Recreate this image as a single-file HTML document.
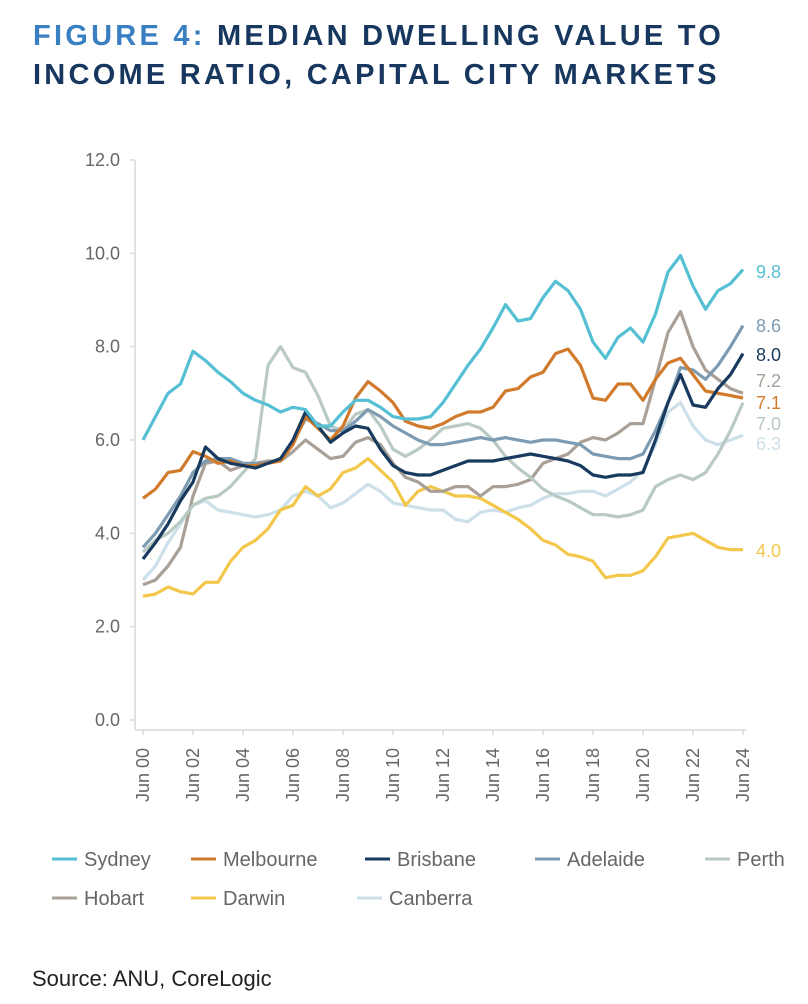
<!DOCTYPE html>
<html><head><meta charset="utf-8"><style>
body{margin:0;background:#fff;width:808px;height:1004px;overflow:hidden;font-family:"Liberation Sans",sans-serif;}
.title{position:absolute;left:33px;top:17px;font-weight:bold;font-size:29px;letter-spacing:3.25px;line-height:39px;color:#17375e;white-space:nowrap;}
.title span{color:#3a7fc1}
svg{position:absolute;left:0;top:0}
</style></head><body>
<div class="title"><span>FIGURE 4:</span> MEDIAN DWELLING VALUE TO<br>INCOME RATIO, CAPITAL CITY MARKETS</div>
<svg id="chart" width="808" height="1004"></svg>
<script>
const years=['00','02','04','06','08','10','12','14','16','18','20','22','24'];
const yTicks=[0,2,4,6,8,10,12];
const names=['Sydney','Melbourne','Brisbane','Adelaide','Perth','Hobart','Darwin','Canberra'];
const colors=['#55bfd3','#d27a2c','#173a5e','#7d9bb2','#b9c9c3','#a9a097','#f3c74b','#cde0ea'];
const endLabels=['9.8','8.6','8.0','7.2','7.1','7.0','6.3','4.0'];
const endSeries=[0,3,2,5,1,4,7,6];
const sydney=[6.0,6.5,7.0,7.2,7.9,7.7,7.45,7.25,7.0,6.85,6.75,6.6,6.7,6.65,6.3,6.3,6.6,6.85,6.85,6.7,6.5,6.45,6.45,6.5,6.8,7.2,7.6,7.95,8.4,8.9,8.55,8.6,9.05,9.4,9.2,8.8,8.1,7.75,8.2,8.4,8.1,8.7,9.6,9.95,9.3,8.8,9.2,9.35,9.65];
const melbourne=[4.75,4.95,5.3,5.35,5.75,5.65,5.5,5.55,5.45,5.45,5.5,5.55,5.9,6.5,6.25,6.0,6.3,6.9,7.25,7.05,6.8,6.4,6.3,6.25,6.35,6.5,6.6,6.6,6.7,7.05,7.1,7.35,7.45,7.85,7.95,7.6,6.9,6.85,7.2,7.2,6.85,7.3,7.65,7.75,7.4,7.05,7.0,6.95,6.9];
const brisbane=[3.45,3.8,4.2,4.7,5.1,5.85,5.6,5.5,5.45,5.4,5.5,5.6,6.0,6.6,6.3,5.95,6.15,6.3,6.25,5.8,5.45,5.3,5.25,5.25,5.35,5.45,5.55,5.55,5.55,5.6,5.65,5.7,5.65,5.6,5.55,5.45,5.25,5.2,5.25,5.25,5.3,6.0,6.8,7.4,6.75,6.7,7.1,7.4,7.85];
const adelaide=[3.7,4.0,4.4,4.8,5.3,5.55,5.6,5.6,5.5,5.5,5.5,5.6,5.95,6.45,6.35,6.2,6.2,6.4,6.65,6.5,6.3,6.15,6.0,5.9,5.9,5.95,6.0,6.05,6.0,6.05,6.0,5.95,6.0,6.0,5.95,5.9,5.7,5.65,5.6,5.6,5.7,6.2,6.8,7.55,7.5,7.3,7.6,8.0,8.45];
const perth=[3.6,3.85,4.0,4.25,4.6,4.75,4.8,5.0,5.3,5.6,7.6,8.0,7.55,7.45,6.95,6.3,6.2,6.55,6.65,6.3,5.8,5.65,5.8,6.0,6.25,6.3,6.35,6.25,6.0,5.65,5.4,5.2,4.95,4.8,4.7,4.55,4.4,4.4,4.35,4.4,4.5,5.0,5.15,5.25,5.15,5.3,5.7,6.2,6.8];
const hobart=[2.9,3.0,3.3,3.7,4.8,5.5,5.55,5.35,5.45,5.5,5.55,5.55,5.75,6.0,5.8,5.6,5.65,5.95,6.05,5.9,5.5,5.2,5.1,4.9,4.9,5.0,5.0,4.8,5.0,5.0,5.05,5.15,5.5,5.6,5.7,5.95,6.05,6.0,6.15,6.35,6.35,7.3,8.3,8.75,8.0,7.5,7.3,7.1,7.0];
const darwin=[2.65,2.7,2.85,2.75,2.7,2.95,2.95,3.4,3.7,3.85,4.1,4.5,4.6,5.0,4.8,4.95,5.3,5.4,5.6,5.35,5.1,4.6,4.9,5.0,4.9,4.8,4.8,4.75,4.6,4.45,4.3,4.1,3.85,3.75,3.55,3.5,3.4,3.05,3.1,3.1,3.2,3.5,3.9,3.95,4.0,3.85,3.7,3.65,3.65];
const canberra=[3.0,3.3,3.8,4.2,4.6,4.7,4.5,4.45,4.4,4.35,4.4,4.5,4.8,4.9,4.8,4.55,4.65,4.85,5.05,4.9,4.65,4.6,4.55,4.5,4.5,4.3,4.25,4.45,4.5,4.45,4.55,4.6,4.75,4.85,4.85,4.9,4.9,4.8,4.95,5.1,5.35,5.9,6.6,6.8,6.3,6.0,5.9,6.0,6.1];
const series=[sydney,melbourne,brisbane,adelaide,perth,hobart,darwin,canberra];
const drawOrder=[7,6,5,4,3,1,2,0];
const svg=document.getElementById('chart');
const NS='http://www.w3.org/2000/svg';
function X(i){return 143+i*12.5;}
function Y(v){return 720-v*46.67;}
function mk(t,a,p){const e=document.createElementNS(NS,t);for(const k in a)e.setAttribute(k,a[k]);(p||svg).appendChild(e);return e;}
const ax=mk('g',{});


mk('line',{x1:135,y1:160,x2:135,y2:730,stroke:'#d9d9d9','stroke-width':1.5},ax);
mk('line',{x1:135,y1:730,x2:746,y2:730,stroke:'#d9d9d9','stroke-width':1.5},ax);
yTicks.forEach(v=>{
 mk('line',{x1:130,y1:Y(v),x2:135,y2:Y(v),stroke:'#d9d9d9','stroke-width':1.5},ax);
 const t=mk('text',{x:120,y:Y(v)+6,'text-anchor':'end','font-size':18,fill:'#666'},ax);
 
 
 t.textContent=v.toFixed(1);
});
years.forEach((yr,k)=>{
 const x=X(k*4);
 mk('line',{x1:x,y1:730,x2:x,y2:735,stroke:'#d9d9d9','stroke-width':1.5},ax);
 const t=mk('text',{x:0,y:0,'text-anchor':'end','font-size':18,fill:'#666',transform:`translate(${x+6},748) rotate(-90)`},ax);
 
 
 t.textContent='Jun '+yr;
});
drawOrder.forEach(s=>{
 const d=series[s].map((v,i)=>(i?'L':'M')+X(i).toFixed(1)+','+Y(v).toFixed(1)).join('');
 const p=mk('path',{d:d,fill:'none',stroke:colors[s],'stroke-width':3.2,'stroke-linejoin':'round'});
 
 
});
const labY=[271,325,354,380,402,423,443,550];
endLabels.forEach((l,i)=>{
 const t=mk('text',{x:756,y:labY[i]+7,'font-size':18,fill:colors[endSeries[i]]});
 
 
 t.textContent=l;
});
const legX=[52,191,365,535,705,52,191,357];
names.forEach((n,i)=>{
 const g=mk('g',{});
 
 
 const y=i<5?859:898;
 mk('line',{x1:legX[i],y1:y,x2:legX[i]+25,y2:y,stroke:colors[i],'stroke-width':3},g);
 const t=mk('text',{x:legX[i]+32,y:y+7,'font-size':20,fill:'#666'},g);
 t.textContent=n;
});
const s=mk('text',{x:32,y:986,'font-size':22,fill:'#222'});


s.textContent='Source: ANU, CoreLogic';
</script>
</body></html>
